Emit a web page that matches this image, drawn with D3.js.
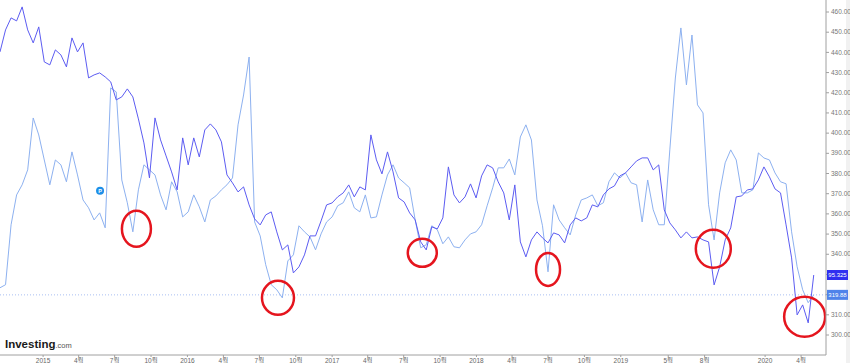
<!DOCTYPE html>
<html>
<head>
<meta charset="utf-8">
<script src="https://cdn.jsdelivr.net/npm/d3@7"></script>
<style>
  body { margin: 0; background: #fff; }
  svg { display: block; font-family: "Liberation Sans", "Noto Sans CJK KR", sans-serif; }
</style>
</head>
<body>
<svg width="850" height="363"></svg>
<script>
// weekly-ish samples, one every 14 days from seriesStart
const seriesStart = '2014-09-14'
const stepDays = 14

// light series (right axis, last 319.88)
const lightValues = [
  323.4, 324.9, 354.6, 369.4, 374.4, 381.8, 407.5, 399.1, 386.7, 374.4,
  386.7, 384.3, 375.9, 390.7, 379.3, 366.9, 363.0, 357.0, 360.5, 353.1,
  422.4, 420.4, 376.8, 365.5, 351.1, 371.9, 384.3, 381.8, 379.3, 369.4,
  362.0, 375.9, 370.9, 358.5, 361.0, 369.4, 363.5, 356.0, 366.9, 368.9,
  371.9, 374.4, 377.8, 404.1, 418.9, 437.7, 356.0, 349.1, 334.8, 324.9,
  322.4, 318.4, 336.7, 339.7, 354.1, 351.1, 348.6, 342.2, 350.1, 356.0,
  358.5, 364.0, 365.5, 370.9, 363.0, 361.0, 369.4, 358.0, 358.5, 369.4,
  379.3, 384.3, 377.8, 375.4, 372.9, 357.0, 343.2, 344.7, 354.1, 352.1,
  345.2, 348.6, 343.7, 343.2, 347.1, 350.1, 351.1, 354.6, 364.0, 372.9,
  382.8, 382.8, 387.2, 379.3, 398.1, 404.1, 396.6, 366.9, 354.1, 331.3,
  364.5, 357.0, 353.1, 349.6, 359.5, 366.9, 367.9, 369.4, 364.0, 365.5,
  375.9, 380.3, 377.8, 380.3, 375.4, 374.4, 356.0, 376.8, 362.0, 354.6,
  354.6, 391.7, 427.3, 452.1, 423.9, 448.6, 414.0, 410.0, 364.5, 347.1,
  370.4, 385.3, 391.7, 386.7, 370.4, 370.4, 371.9, 390.2, 387.7, 386.7,
  380.3, 375.9, 374.9, 351.1, 333.8, 322.4, 316.0, 319.88
]

// dark series (own hidden scale, last 95.325)
const darkValues = [
  106.48, 107.58, 108.18, 108.03, 108.73, 107.58, 106.93, 107.73, 105.98, 105.83,
  106.58, 106.33, 105.73, 107.18, 106.48, 106.93, 105.18, 105.33, 105.43, 105.23,
  104.98, 104.08, 104.23, 104.63, 104.23, 103.13, 101.93, 100.18, 103.18, 102.08,
  101.28, 100.48, 99.58, 102.18, 100.83, 102.18, 101.23, 102.58, 102.88, 102.58,
  101.98, 100.33, 99.93, 99.48, 99.73, 98.83, 98.13, 97.83, 98.33, 98.48,
  97.48, 96.58, 96.83, 95.43, 95.73, 96.33, 97.28, 97.28, 98.03, 98.83,
  98.93, 99.23, 99.43, 99.83, 99.23, 99.73, 99.58, 102.33, 101.08, 100.38,
  101.48, 100.48, 99.18, 98.98, 98.43, 98.08, 96.98, 96.58, 97.73, 97.63,
  98.18, 100.73, 99.33, 98.93, 99.23, 99.88, 99.18, 100.28, 100.83, 100.68,
  99.98, 99.43, 98.08, 99.83, 96.98, 96.23, 97.08, 97.48, 97.18, 96.93,
  97.43, 97.33, 96.93, 97.83, 98.18, 98.03, 98.18, 98.83, 98.73, 99.33,
  99.63, 99.78, 100.28, 100.43, 100.73, 101.03, 101.18, 101.18, 100.58, 100.83,
  98.58, 97.93, 97.58, 97.18, 97.48, 97.18, 97.23, 97.08, 96.98, 94.83,
  95.73, 97.08, 97.68, 99.23, 99.28, 99.58, 99.63, 100.08, 100.73, 100.23,
  99.63, 99.43, 97.83, 96.18, 93.33, 93.83, 92.93, 95.325
]

const yTicks = [460, 450, 440, 430, 420, 410, 400, 390, 380, 370, 360, 350, 340, 330, 320, 310, 300]
const xTickDates = ['2015-01-01', '2015-04-01', '2015-07-01', '2015-10-01',
  '2016-01-01', '2016-04-01', '2016-07-01', '2016-10-01',
  '2017-01-01', '2017-04-01', '2017-07-01', '2017-10-01',
  '2018-01-01', '2018-04-01', '2018-07-01', '2018-10-01',
  '2019-01-01', '2019-05-01', '2019-08-01', '2020-01-01', '2020-04-01']
const xTickLabels = ['2015', '4월', '7월', '10월', '2016', '4월', '7월', '10월',
  '2017', '4월', '7월', '10월', '2018', '4월', '7월', '10월',
  '2019', '5월', '8월', '2020', '4월']

// red rings drawn on the chart (date, light-scale value)
const ringDates = ['2015-08-25', '2016-08-17', '2017-08-17', '2018-07-01', '2019-08-23', '2020-04-10']
const ringValues = [352.6, 318.4, 340.7, 332.5, 342.7, 309]
const markerDate = '2015-05-25'
const markerValue = 371.4

const parse = d3.timeParse('%Y-%m-%d')
const svg = d3.select('svg')
const plotW = 826, plotB = 355

const x = d3.scaleTime()
  .domain([parse('2014-09-14'), parse('2020-06-03')])
  .range([0, plotW])
const yL = d3.scaleLinear().domain([300, 460]).range([335, 12])
const yD = d3.scaleLinear().domain([92.325, 108.475]).range([335, 12])

const start = parse(seriesStart)
const light = lightValues.map((v, i) => ({ date: d3.timeDay.offset(start, i * stepDays), value: v }))
const dark = darkValues.map((v, i) => ({ date: d3.timeDay.offset(start, i * stepDays), value: v }))

// scrollbar strip on the far right
svg.append('rect').attr('x', 846).attr('y', 0).attr('width', 4).attr('height', 363).attr('fill', '#f1f1f1')

const lastLight = lightValues[lightValues.length - 1]
const lastDark = darkValues[darkValues.length - 1]
svg.append('line')
  .attr('x1', 0).attr('x2', plotW)
  .attr('y1', yL(lastLight)).attr('y2', yL(lastLight))
  .attr('stroke', '#aabff2').attr('stroke-width', 1).attr('stroke-dasharray', '1,2')

const clip = svg.append('defs').append('clipPath').attr('id', 'plot')
clip.append('rect').attr('x', 0).attr('y', 0).attr('width', plotW).attr('height', plotB)
const g = svg.append('g').attr('clip-path', 'url(#plot)')

g.append('path')
  .datum(light)
  .attr('fill', 'none')
  .attr('stroke', '#8db1f0')
  .attr('stroke-width', 1)
  .attr('d', d3.line().x(d => x(d.date)).y(d => yL(d.value)))

g.append('path')
  .datum(dark)
  .attr('fill', 'none')
  .attr('stroke', '#5c5cf2')
  .attr('stroke-width', 1)
  .attr('d', d3.line().x(d => x(d.date)).y(d => yD(d.value)))

// red rings
const ringSize = [[14.5, 18], [16, 17], [14.5, 14], [12, 16.5], [17.5, 19], [20.5, 20]]
g.selectAll('ellipse.ring')
  .data(ringDates)
  .enter().append('ellipse')
  .attr('class', 'ring')
  .attr('cx', d => x(parse(d)))
  .attr('cy', (d, i) => yL(ringValues[i]))
  .attr('rx', (d, i) => ringSize[i][0])
  .attr('ry', (d, i) => ringSize[i][1])
  .attr('fill', 'none')
  .attr('stroke', '#e5151e')
  .attr('stroke-width', 2.5)

// event marker
const mk = svg.append('g')
  .attr('transform', 'translate(' + x(parse(markerDate)) + ',' + yL(markerValue) + ')')
mk.append('circle').attr('r', 4).attr('fill', '#1d8fe8')
mk.append('text').attr('y', 2).attr('text-anchor', 'middle')
  .attr('font-size', 5.5).attr('font-weight', 'bold').attr('fill', '#fff').text('P')

// right axis
const yAxis = svg.append('g').attr('transform', 'translate(' + plotW + ',0)')
yAxis.append('line').attr('y1', 0).attr('y2', plotB).attr('stroke', '#a0a0a0')
const yt = yAxis.selectAll('g.tick').data(yTicks).enter().append('g')
  .attr('transform', d => 'translate(0,' + yL(d) + ')')
yt.append('line').attr('x2', 3).attr('stroke', '#a0a0a0')
// labels hidden behind the last-value boxes are skipped
const boxYs = [yD(lastDark), yL(lastLight)]
yt.filter(d => boxYs.every(b => Math.abs(yL(d) - b) > 8))
  .append('text').attr('x', 5).attr('dy', '0.33em')
  .attr('font-size', 6.5).attr('fill', '#777').text(d => d3.format('.2f')(d))

// last value boxes
function valueBox (yPos, fill, label) {
  const b = yAxis.append('g').attr('transform', 'translate(1,' + yPos + ')')
  b.append('rect').attr('x', 0).attr('y', -5).attr('width', 21).attr('height', 10).attr('fill', fill)
  b.append('text').attr('x', 10.5).attr('dy', '0.33em').attr('text-anchor', 'middle')
    .attr('font-size', 6).attr('fill', '#fff').text(label)
}
valueBox(yD(lastDark), '#2f2ff0', '95.325')
valueBox(yL(lastLight), '#4f83ea', '319.88')

// bottom axis
const xAxis = svg.append('g').attr('transform', 'translate(0,' + plotB + ')')
xAxis.append('line').attr('x1', 0).attr('x2', plotW).attr('stroke', '#a0a0a0')
const xt = xAxis.selectAll('g.tick').data(xTickDates).enter().append('g')
  .attr('transform', d => 'translate(' + x(parse(d)) + ',0)')
xt.append('line').attr('y2', 2).attr('stroke', '#a0a0a0')
xt.append('text').attr('y', 5.5).attr('dy', '0.33em').attr('text-anchor', 'middle')
  .attr('font-size', 6.5).attr('fill', '#666').text((d, i) => xTickLabels[i])

// logo
const logo = svg.append('text').attr('x', 5).attr('y', 348)
logo.append('tspan').attr('font-size', 11.5).attr('font-weight', 'bold').attr('fill', '#1a1a1a').text('Investing')
logo.append('tspan').attr('font-size', 7.5).attr('fill', '#555').text('.com')
</script>
</body>
</html>
